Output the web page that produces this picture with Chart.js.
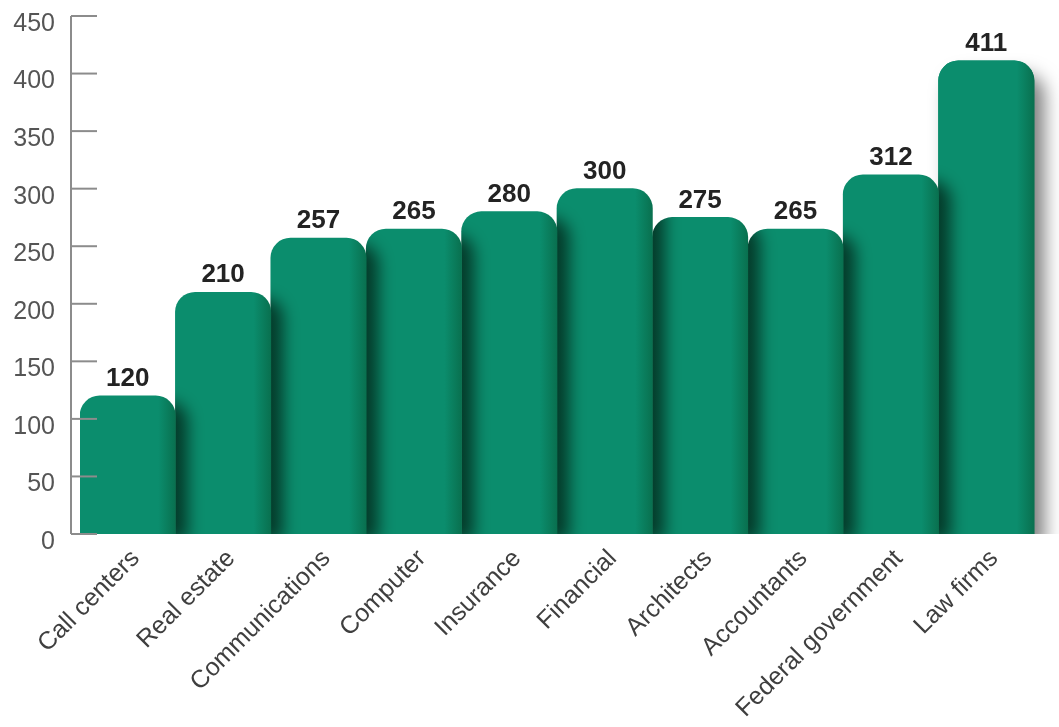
<!DOCTYPE html>
<html>
<head>
<meta charset="utf-8">
<title>Employees by sector</title>
<script src="https://cdn.jsdelivr.net/npm/chart.js@4/dist/chart.umd.min.js"></script>
<style>
  html, body { margin: 0; padding: 0; background: #fff; }
  #wrap { width: 1059px; height: 727px; position: relative; }
</style>
</head>
<body>
<div id="wrap"><canvas id="chart"></canvas></div>
<script>
  const categories = ['Call centers', 'Real estate', 'Communications', 'Computer', 'Insurance',
    'Financial', 'Architects', 'Accountants', 'Federal government', 'Law firms'];
  const values = [120, 210, 257, 265, 280, 300, 275, 265, 312, 411];
  const yMin = 0;
  const yMax = 450;
  const yStep = 50;

  const barColor = '#0b8d6d';
  const barEdge = '#09704f';
  const fontFamily = "'Liberation Sans', Arial, sans-serif";

  // shade each bar face a little darker towards its right edge
  function shadeFace(ctx, bar) {
    const half = bar.width / 2;
    const g = ctx.createLinearGradient(bar.x - half, 0, bar.x + half, 0);
    g.addColorStop(0, barColor);
    g.addColorStop(0.82, barColor);
    g.addColorStop(1, barEdge);
    bar.options.backgroundColor = g;
  }

  // bars are laid out right to left (reversed axis), so drawing in index order
  // lets each bar drop its shadow onto the neighbour already painted to its right
  const barShadow = {
    id: 'barShadow',
    beforeDatasetDraw(chart, args) {
      const ctx = chart.ctx;
      const area = chart.chartArea;
      const far = 3000;
      ctx.save();
      ctx.beginPath();
      ctx.rect(area.left, area.top, chart.width - area.left, area.bottom - area.top);
      ctx.clip();
      args.meta.data.forEach(function (bar, i) {
        shadeFace(ctx, bar);
        ctx.save();
        if (i === 0) {
          ctx.shadowColor = 'rgba(0, 0, 0, 0.5)';
          ctx.shadowBlur = 18;
          ctx.shadowOffsetX = 10;
          ctx.shadowOffsetY = 14;
          bar.draw(ctx);
        } else {
          ctx.globalCompositeOperation = 'source-atop';
          ctx.shadowColor = 'rgba(0, 20, 10, 0.68)';
          ctx.shadowBlur = 16;
          ctx.shadowOffsetX = far + 12;
          ctx.shadowOffsetY = 6;
          ctx.translate(-far, 0);
          bar.draw(ctx);
        }
        ctx.restore();
        bar.draw(ctx);
      });
      ctx.restore();
      return false;
    }
  };

  const valueLabels = {
    id: 'valueLabels',
    afterDatasetsDraw(chart) {
      const ctx = chart.ctx;
      const data = chart.data.datasets[0].data;
      ctx.save();
      ctx.font = 'bold 26px ' + fontFamily;
      ctx.fillStyle = '#232323';
      ctx.textAlign = 'center';
      ctx.textBaseline = 'bottom';
      chart.getDatasetMeta(0).data.forEach(function (bar, i) {
        ctx.fillText(String(data[i]), bar.x, bar.y - 4);
      });
      ctx.restore();
    }
  };

  // y axis line with its tick marks pointing into the plot
  const valueAxis = {
    id: 'valueAxis',
    afterDraw(chart) {
      const ctx = chart.ctx;
      const scale = chart.scales.y;
      const x = chart.chartArea.left - 9;
      ctx.save();
      ctx.strokeStyle = '#8c8c8c';
      ctx.lineWidth = 2;
      ctx.beginPath();
      ctx.moveTo(x, scale.getPixelForValue(yMax));
      ctx.lineTo(x, scale.getPixelForValue(yMin));
      ctx.stroke();
      scale.ticks.forEach(function (t) {
        const y = scale.getPixelForValue(t.value);
        ctx.beginPath();
        ctx.moveTo(x, y);
        ctx.lineTo(x + 26, y);
        ctx.stroke();
      });
      ctx.restore();
    }
  };

  const labels = categories.slice().reverse();
  const series = values.slice().reverse();

  new Chart(document.getElementById('chart'), {
    type: 'bar',
    data: {
      labels: labels,
      datasets: [{
        data: series,
        backgroundColor: barColor,
        borderWidth: 0,
        borderSkipped: 'bottom',
        borderRadius: { topLeft: 20, topRight: 20, bottomLeft: 0, bottomRight: 0 },
        barPercentage: 1,
        categoryPercentage: 1
      }]
    },
    options: {
      responsive: true,
      maintainAspectRatio: false,
      animation: false,
      layout: { padding: { top: 16, right: 25, bottom: 0, left: 0 } },
      plugins: { legend: { display: false }, tooltip: { enabled: false } },
      scales: {
        x: {
          reverse: true,
          grid: { display: false, drawTicks: false },
          border: { display: false },
          ticks: {
            autoSkip: false,
            minRotation: 45,
            maxRotation: 45,
            padding: 10,
            labelOffset: 8,
            color: '#3f3f3f',
            font: { family: fontFamily, size: 25 }
          },
          afterFit(scale) { scale.height = 193; }
        },
        y: {
          min: yMin,
          max: yMax,
          grid: { display: false, drawTicks: false },
          border: { display: false },
          ticks: {
            stepSize: yStep,
            padding: 25,
            labelOffset: 8,
            color: '#555555',
            font: { family: fontFamily, size: 25 }
          },
          afterFit(scale) {
            scale.width = 80;
            scale.paddingTop = 0;
            scale.paddingBottom = 0;
          }
        }
      }
    },
    plugins: [barShadow, valueLabels, valueAxis]
  });
</script>
</body>
</html>
